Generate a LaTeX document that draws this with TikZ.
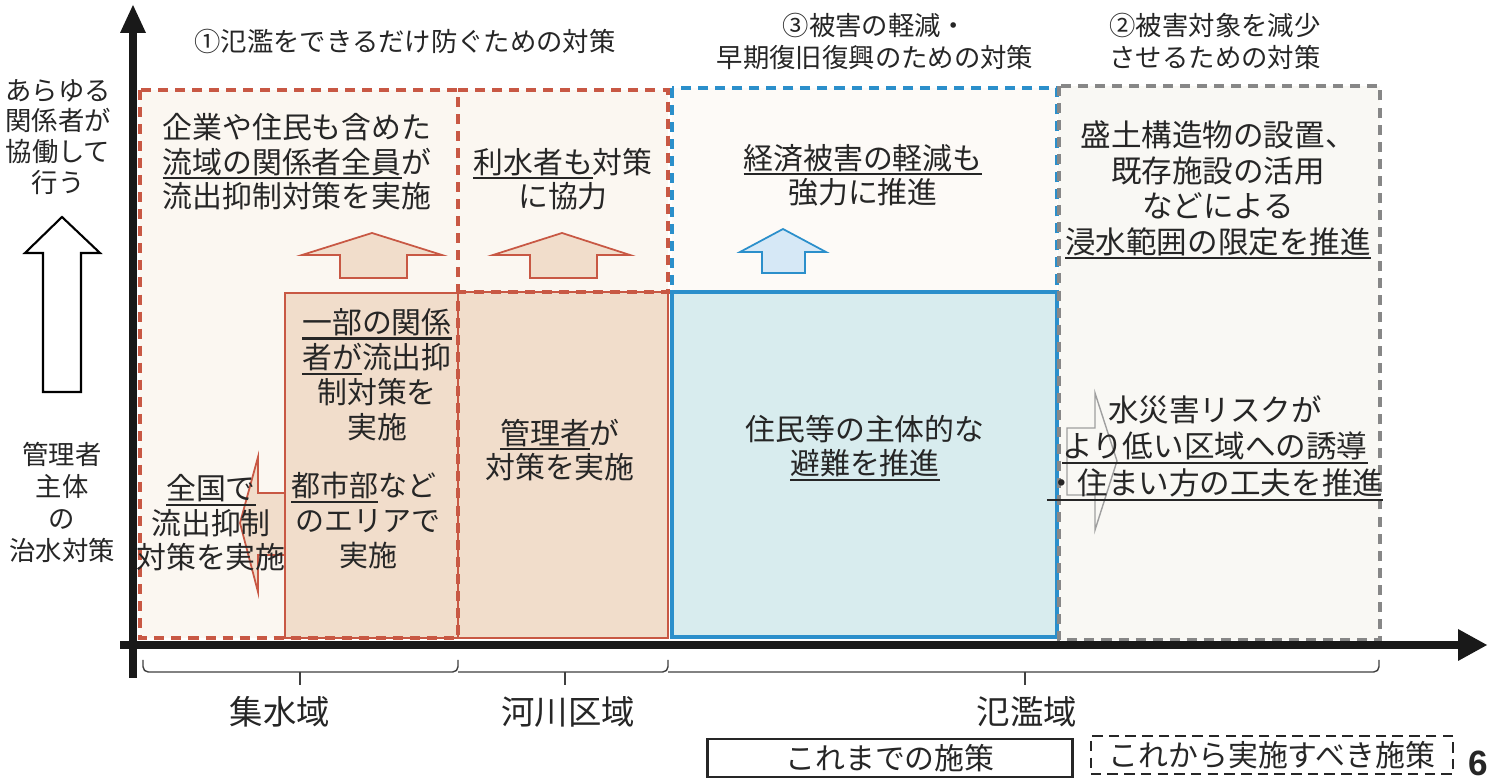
\documentclass[tikz,border=0pt]{standalone}
\usepackage{fontspec}
\setmainfont{Noto Sans CJK JP}
\newfontfamily\numfont{Liberation Sans}
\newsavebox\ulbox
\newcommand\myul[1]{\sbox\ulbox{#1}\rlap{\rule[-3.4pt]{\wd\ulbox}{1.2pt}}\usebox\ulbox}
\definecolor{redd}{RGB}{200,88,68}
\definecolor{tanfill}{RGB}{241,221,203}
\definecolor{cream}{RGB}{251,247,241}
\definecolor{blued}{RGB}{43,143,203}
\definecolor{bluefill}{RGB}{216,236,238}
\definecolor{arrowblue}{RGB}{214,232,246}
\definecolor{grayd}{RGB}{135,135,135}
\definecolor{grayfill}{RGB}{249,248,244}
\tikzset{
  dashbox/.style={line width=2pt, dash pattern=on 5.7pt off 4pt},
  txt/.style={font=\fontsize{17}{19.6}\selectfont, align=center, inner sep=0pt, text=black!85},
  hdr/.style={font=\fontsize{15}{18.2}\selectfont, align=center, inner sep=0pt, text=black!85},
  side/.style={font=\fontsize{15}{17.5}\selectfont, align=center, inner sep=0pt, text=black!85},
  area/.style={font=\fontsize{19}{22}\selectfont, inner sep=0pt, text=black!85},
  legend/.style={font=\fontsize{17}{20}\selectfont, inner sep=0pt, minimum height=0.76cm, text=black!85},
  bracket/.style={line width=0.8pt, black!75},
  tanarrow/.style={fill=tanfill, draw=redd, line width=1pt},
}
\begin{document}
\begin{tikzpicture}[x=0.02cm,y=-0.02cm]
\useasboundingbox[fill=white] (0,0) rectangle (1502,783);

% region fills
\fill[cream] (140,90) rectangle (668,638);
\fill[cream!60!white] (672,88) rectangle (1057,292);
\fill[grayfill] (1058,86) rectangle (1380,640);

% filled solid boxes
\draw[fill=tanfill, draw=redd, line width=1.2pt] (285,293) rectangle (458,638);
\draw[fill=tanfill, draw=redd, line width=1.2pt] (458,292) rectangle (668,638);
\draw[fill=bluefill, draw=blued, line width=1.8pt] (672,292) rectangle (1057,637);

% dashed outlines
\draw[dashbox, redd] (140,90) rectangle (458,638);
\draw[dashbox, redd] (458,90) -- (668,90) -- (668,292) -- (458,292);
\draw[dashbox, blued] (672,88) rectangle (1057,292);
\draw[dashbox, grayd] (1059,86) rectangle (1380,640);

% block arrows
\draw[line width=1.2pt, black, fill=white] (62,217) -- (100,253) -- (81,253) -- (81,392) -- (43,392) -- (43,253) -- (25,253) -- cycle;
\draw[tanarrow] (372,233) -- (442,255) -- (407,255) -- (407,278) -- (340,278) -- (340,255) -- (302,255) -- cycle;
\draw[tanarrow] (562,233) -- (630,255) -- (597,255) -- (597,278) -- (530,278) -- (530,255) -- (493,255) -- cycle;
\draw[fill=arrowblue, draw=blued, line width=1pt] (783,229) -- (826,252) -- (805,252) -- (805,273) -- (762,273) -- (762,252) -- (740,252) -- cycle;
\draw[tanarrow] (240,523) -- (258,457) -- (258,493) -- (285,493) -- (285,555) -- (258,555) -- (258,592) -- cycle;
\draw[grayd!80, line width=0.8pt] (1117,461) -- (1095,393) -- (1095,428) -- (1067,428) -- (1067,495) -- (1095,495) -- (1095,530) -- cycle;

% headers
\node[hdr] (h1) at (405,41) {①氾濫をできるだけ防ぐための対策};
\node[hdr] (h3) at (875,41) {③被害の軽減・\\早期復旧復興のための対策};
\node[hdr] (h2) at (1215,41) {②被害対象を減少\\させるための対策};

% side labels
\node[side] (s1) at (58,137) {あらゆる\\関係者が\\協働して\\行う};
\node[side, font=\fontsize{15}{18.2}\selectfont] (s2) at (62,502) {管理者\\主体\\の\\治水対策};

% main texts
\node[txt] (t1) at (297,162) {企業や住民も含めた\\\myul{流域の関係者全員}が\\流出抑制対策を実施};
\node[txt] (t2) at (563,179) {\myul{利水者も}対策\\に協力};
\node[txt] (t3) at (863,175) {\myul{経済被害の軽減も}\\強力に推進};
\node[txt, font=\fontsize{17.4}{20.2}\selectfont] (t4) at (1218,190) {盛土構造物の設置、\\既存施設の活用\\などによる\\\myul{浸水範囲の限定を推進}};
\node[txt, font=\fontsize{17}{20}\selectfont] (t5) at (377,375) {\myul{一部の関係}\\\myul{者が}流出抑\\制対策を\\実施};
\node[txt, font=\fontsize{16.5}{19.7}\selectfont, anchor=base] (t6a) at (364,497) {都市部など};
\draw[line width=1.2pt, black!85] ([yshift=-2.8pt]t6a.base west) -- ++(49.5pt,0);
\node[txt, font=\fontsize{16.5}{19.7}\selectfont] (t6b) at (368,539) {のエリアで\\実施};
\node[txt, font=\fontsize{17}{19.7}\selectfont] (t7) at (211,523) {\myul{全国で}\\流出抑制\\対策を実施};
\node[txt] (t8) at (560,450) {\myul{管理者}が\\対策を実施};
\node[txt] (t9) at (865,448) {住民等の主体的な\\\myul{避難を推進}};
\node[txt, font=\fontsize{17.4}{21}\selectfont] (t10) at (1215,448) {水災害リスクが\\\myul{より低い区域への誘導}\\\myul{・住まい方の工夫を推進}};

% axes
\draw[line width=4.6pt, black!90] (133,678) -- (133,28);
\fill[black!90] (133,5) -- (146,33) -- (120,33) -- cycle;
\draw[line width=5pt, black!90] (120,645) -- (1460,645);
\fill[black!90] (1487,645) -- (1458,629) -- (1458,661) -- cycle;

% brackets
\draw[bracket, rounded corners=3pt] (143,660) -- (143,672) -- (458,672) -- (458,660);
\draw[bracket, rounded corners=3pt] (458,672) -- (668,672) -- (668,660);
\draw[bracket, rounded corners=3pt] (668,672) -- (1379,672) -- (1379,660);
\draw[bracket] (300,672) -- (300,685);
\draw[bracket] (565,672) -- (565,685);
\draw[bracket] (1025,672) -- (1025,685);

\node[area] (a1) at (280,712) {集水域};
\node[area] (a2) at (568,712) {河川区域};
\node[area] (a3) at (1027,712) {氾濫域};

% legend
\node[legend, draw=black!85, line width=1.3pt, minimum width=7.3cm] (lg1) at (890,758) {これまでの施策};
\node[legend, draw=black!85, line width=1.3pt, dash pattern=on 6pt off 3.5pt, minimum width=7.25cm] (lg2) at (1272,755) {これから実施すべき施策};
\node[font=\numfont\bfseries\fontsize{20}{22}\selectfont, inner sep=0pt, text=black!85] (pg) at (1478,763) {6};
\end{tikzpicture}
\end{document}
